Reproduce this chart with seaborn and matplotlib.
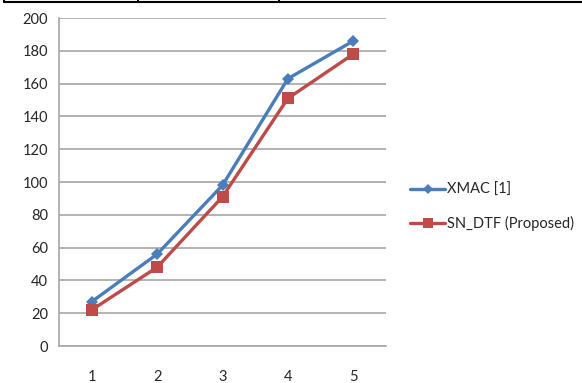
#!/usr/bin/env python3

import pandas
import seaborn as sns
import matplotlib.pyplot as plt
from matplotlib.lines import Line2D

# Values
categories = [1, 2, 3, 4, 5]
xmac = [27, 56, 98, 163, 186]
sn_dtf = [22, 48, 91, 151, 178]
series_names = ["XMAC [1]", "SN_DTF (Proposed)"]
y_ticks = [0, 20, 40, 60, 80, 100, 120, 140, 160, 180, 200]


def main():
    df = pandas.DataFrame(
        {
            "x": categories * 2,
            "value": xmac + sn_dtf,
            "series": [series_names[0]] * len(xmac) + [series_names[1]] * len(sn_dtf),
        }
    )

    sns.set_style("white")
    plt.rcParams["font.family"] = ["Lato", "DejaVu Sans"]

    fig = plt.figure(figsize=(5.82, 3.83), dpi=100)
    ax = fig.add_axes([59 / 582, 37 / 383, 327 / 582, 328 / 383])

    palette = {series_names[0]: "#4A7EBB", series_names[1]: "#BE4B48"}
    markers = {series_names[0]: "D", series_names[1]: "s"}
    sizes = {series_names[0]: 6.5, series_names[1]: 8.5}

    for name in series_names:
        sub = df[df.series == name]
        sns.lineplot(
            data=sub,
            x="x",
            y="value",
            color=palette[name],
            marker=markers[name],
            markersize=sizes[name],
            markeredgewidth=0,
            linewidth=2.4,
            ax=ax,
            label=name,
            legend=False,
        )

    grey = "#A6A6A6"
    fs = 10.5
    ax.set_xlim(0.5, 5.5)
    ax.set_ylim(0, 200)
    ax.set_yticks(y_ticks)
    ax.set_yticklabels([str(t) for t in y_ticks], fontsize=fs)
    ax.set_xticks(categories)
    ax.set_xticklabels([str(c) for c in categories], fontsize=fs)
    ax.set_xticks([c - 0.5 for c in categories] + [5.5], minor=True)
    ax.tick_params(axis="x", which="major", length=0, pad=17)
    ax.tick_params(axis="x", which="minor", length=5, color=grey, width=1.2, direction="out")
    ax.tick_params(axis="y", length=5, color=grey, width=1.2, direction="out", pad=3)
    ax.yaxis.grid(True, color=grey, linewidth=1.2)
    ax.set_axisbelow(True)
    ax.set_xlabel("")
    ax.set_ylabel("")
    for side in ["top", "right"]:
        ax.spines[side].set_visible(False)
    for side in ["left", "bottom"]:
        ax.spines[side].set_color(grey)
        ax.spines[side].set_linewidth(1.2)

    # Legend on the right, no frame
    handles = [
        Line2D([], [], color=palette[n], marker=markers[n], markersize=sizes[n] * 0.85,
               markeredgewidth=0, linewidth=2.4)
        for n in series_names
    ]
    fig.legend(
        handles,
        series_names,
        loc="upper left",
        bbox_to_anchor=(397 / 582, 1 - 170 / 383),
        frameon=False,
        fontsize=fs,
        handlelength=2.4,
        handletextpad=0.15,
        labelspacing=1.3,
    )

    # Edge of the table that sits above the chart
    fig.add_artist(Line2D([4 / 582, 1], [1 - 2 / 383] * 2, color="black", linewidth=1.5,
                          transform=fig.transFigure))
    for xpos in [4, 138, 279]:
        fig.add_artist(Line2D([xpos / 582] * 2, [1 - 2 / 383, 1], color="black",
                              linewidth=1.5, transform=fig.transFigure))

    plt.savefig("out.png", dpi=100)


if __name__ == "__main__":
    main()
